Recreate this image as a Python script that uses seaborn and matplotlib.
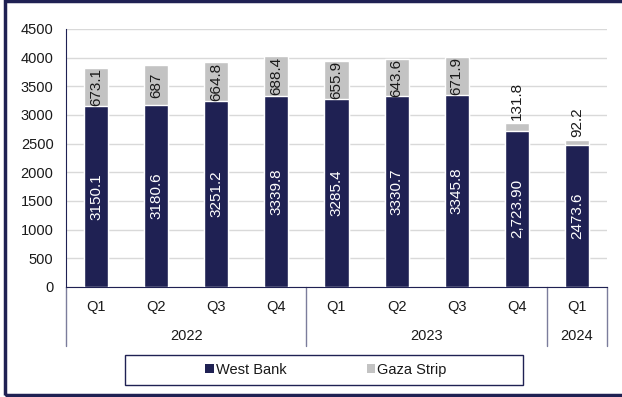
import numpy as np
import pandas as pd
import matplotlib.pyplot as plt
import seaborn as sns
from matplotlib.patches import Rectangle, Patch

# Datos
years = ["2022", "2022", "2022", "2022", "2023", "2023", "2023", "2023", "2024"]
quarters = ["Q1", "Q2", "Q3", "Q4", "Q1", "Q2", "Q3", "Q4", "Q1"]
west_bank = [3150.1, 3180.6, 3251.2, 3339.8, 3285.4, 3330.7, 3345.8, 2723.90, 2473.6]
gaza = [673.1, 687, 664.8, 688.4, 655.9, 643.6, 671.9, 131.8, 92.2]
west_labels = ["3150.1", "3180.6", "3251.2", "3339.8", "3285.4", "3330.7", "3345.8", "2,723.90", "2473.6"]
gaza_labels = ["673.1", "687", "664.8", "688.4", "655.9", "643.6", "671.9", "131.8", "92.2"]

navy = "#1F2153"
grey = "#C3C3C3"
txt = "#1a1a1a"
fs = 10.5

sns.set_theme(style="white")
plt.rcParams["font.family"] = ["Liberation Sans", "DejaVu Sans"]

df = pd.DataFrame({
    "period": [f"{y} {q}" for y, q in zip(years, quarters)],
    "west": west_bank,
    "total": np.array(west_bank) + np.array(gaza),
})
order = list(df["period"])

fig = plt.figure(figsize=(6.22, 3.97), dpi=100)
ax = fig.add_axes([66 / 622, 1 - 287 / 397, (607 - 66) / 622, (287 - 29) / 397])

# barras apiladas: total en gris, West Bank encima
sns.barplot(data=df, x="period", y="total", order=order, color=grey, width=0.4,
            saturation=1, ax=ax, zorder=2)
sns.barplot(data=df, x="period", y="west", order=order, color=navy, width=0.4,
            saturation=1, ax=ax, zorder=3)

ax.set_xlim(-0.5, len(order) - 0.5)
ax.set_ylim(0, 4500)
ax.set_yticks(np.arange(0, 4501, 500))
ax.yaxis.grid(True, color="#D9D9D9", lw=1, zorder=0)
ax.set_axisbelow(True)
ax.tick_params(axis="y", length=0, pad=9, labelsize=fs, labelcolor=txt)
ax.tick_params(axis="x", length=0, labelbottom=False)
ax.set_xlabel("")
ax.set_ylabel("")
for s in ["top", "right"]:
    ax.spines[s].set_visible(False)
ax.spines["left"].set_color(navy)
ax.spines["left"].set_linewidth(0.8)
ax.spines["bottom"].set_color(navy)
ax.spines["bottom"].set_linewidth(0.8)

# etiquetas de datos
for i in range(len(order)):
    ax.text(i, west_bank[i] / 2, west_labels[i], rotation=90, ha="center", va="center",
            color="white", fontsize=11, zorder=5)
    if gaza[i] > 300:
        ax.text(i, west_bank[i] + gaza[i] / 2, gaza_labels[i], rotation=90, ha="center",
                va="center", color=txt, fontsize=11, zorder=5)
    else:
        ax.annotate(gaza_labels[i], (i, west_bank[i] + gaza[i]), xytext=(0, 2),
                    textcoords="offset points", rotation=90, ha="center", va="bottom",
                    color=txt, fontsize=11, zorder=5)

# eje x en dos niveles
trans = ax.get_xaxis_transform()
for i, q in enumerate(quarters):
    ax.text(i, -0.0775, q, transform=trans, ha="center", va="center", fontsize=fs, color=txt)
groups = {}
for i, y in enumerate(years):
    groups.setdefault(y, []).append(i)
for y, idx in groups.items():
    ax.text(np.mean(idx), -0.19, y, transform=trans, ha="center", va="center",
            fontsize=fs, color=txt)
bounds = [-0.5] + [idx[-1] + 0.5 for idx in groups.values()]
for b in bounds:
    ax.plot([b, b], [0, -0.2287], transform=trans, color="#7B7D9C", lw=1, clip_on=False)

# leyenda
handles = [Patch(facecolor=navy, edgecolor="none", label="West Bank"),
           Patch(facecolor=grey, edgecolor="none", label="Gaza Strip")]
fig.legend(handles=handles, loc="center", bbox_to_anchor=(326 / 622, 1 - 370 / 397),
           ncol=2, frameon=False, fontsize=fs, handlelength=0.57, handleheight=0.57,
           handletextpad=0.15, columnspacing=5.5, labelcolor=txt)
fig.patches.append(Rectangle((125 / 622, 1 - 385 / 397), 398 / 622, 30 / 397,
                             transform=fig.transFigure, fill=False, edgecolor=navy, lw=1))

# marco exterior
fig.patches.append(Rectangle((5 / 622, 2.5 / 397), 1.2, 393.5 / 397,
                             transform=fig.transFigure, fill=False, edgecolor=navy, lw=2.5))

fig.savefig("out.png", dpi=100)
